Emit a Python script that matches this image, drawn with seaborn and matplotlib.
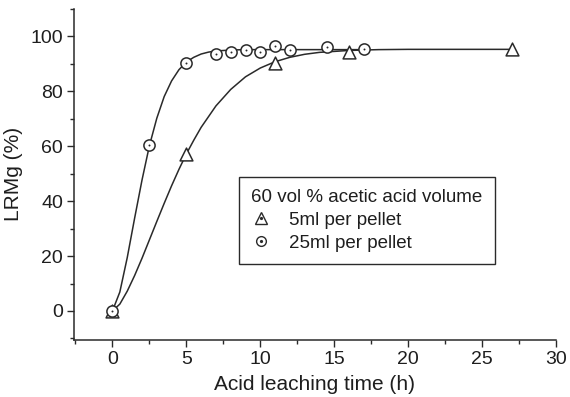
import numpy as np
import pandas as pd
import matplotlib
matplotlib.use("Agg")
import matplotlib.pyplot as plt
import seaborn as sns
from matplotlib.lines import Line2D
from matplotlib.legend_handler import HandlerTuple
from matplotlib.ticker import MultipleLocator

# measured points
t_5ml = [0, 5, 11, 16, 27]
y_5ml = [0, 57, 90.5, 94.5, 95.5]
t_25ml = [0, 2.5, 5, 7, 8, 9, 10, 11, 12, 14.5, 17]
y_25ml = [0, 60.5, 90.5, 93.5, 94.2, 95.0, 94.5, 96.5, 95.2, 96.0, 95.6]

# fitted curves
fit_t_5ml = [0, 0.5, 1, 1.5, 2, 2.5, 3, 3.5, 4, 4.5, 5, 5.5, 6, 7, 8, 9, 10, 11, 12, 13, 14, 16, 18, 20, 23, 27]
fit_y_5ml = [0, 2.5, 7.2, 12.9, 19.2, 25.9, 32.6, 39.2, 45.6, 51.6, 57.2, 62.2, 66.9, 74.7, 80.7, 85.3,
             88.5, 90.8, 92.4, 93.5, 94.2, 94.9, 95.2, 95.3, 95.3, 95.3]
fit_t_25ml = [0, 0.5, 1, 1.5, 2, 2.5, 3, 3.5, 4, 4.5, 5, 5.5, 6, 6.5, 7, 8, 9, 11, 14, 17]
fit_y_25ml = [0, 6.9, 19.4, 33.8, 47.7, 60.2, 70.2, 78.1, 83.8, 87.9, 90.7, 92.4, 93.6, 94.3, 94.7, 95.06,
              95.2, 95.2, 95.2, 95.2]

legend_title = "60 vol % acetic acid volume"
labels = ["5ml per pellet", "25ml per pellet"]

sns.set_style("ticks")
plt.rcParams['font.family'] = ['Liberation Sans', 'DejaVu Sans']

col = "#2a2a2a"
txt = "#1e1e1e"
fig = plt.figure(figsize=(5.7, 3.97), dpi=100)
ax = fig.add_axes([74 / 570, 1 - 339.5 / 397, (556 - 74) / 570, (339.5 - 9) / 397])

sns.lineplot(x=fit_t_5ml, y=fit_y_5ml, ax=ax, color=col, lw=1.1, sort=False)
sns.lineplot(x=fit_t_25ml, y=fit_y_25ml, ax=ax, color=col, lw=1.1, sort=False)

sns.scatterplot(x=t_5ml, y=y_5ml, ax=ax, marker="^", s=85, facecolor="white",
                edgecolor=col, linewidth=1.1, zorder=3)
sns.scatterplot(x=t_25ml, y=y_25ml, ax=ax, marker="o", s=65, facecolor="white",
                edgecolor=col, linewidth=1.1, zorder=3)
sns.scatterplot(x=t_25ml, y=y_25ml, ax=ax, marker="o", s=2, color=col, linewidth=0, zorder=4)

ax.set_xlim(-2.6, 30)
ax.set_ylim(-10.4, 110)
ax.xaxis.set_major_locator(MultipleLocator(5))
ax.xaxis.set_minor_locator(MultipleLocator(2.5))
ax.yaxis.set_major_locator(MultipleLocator(20))
ax.yaxis.set_minor_locator(MultipleLocator(10))
ax.tick_params(which="major", length=5, width=1, color=col, labelsize=14, labelcolor=txt,
               direction="out", pad=3)
ax.tick_params(which="minor", length=3, width=1, color=col, direction="out")
for s in ["top", "right"]:
    ax.spines[s].set_visible(False)
for s in ["left", "bottom"]:
    ax.spines[s].set_color(col)
    ax.spines[s].set_linewidth(1.1)

ax.set_xlabel("Acid leaching time (h)", fontsize=15, color=txt, labelpad=5)
ax.set_ylabel("LRMg (%)", fontsize=15, color=txt, labelpad=5)

tri = Line2D([], [], marker="^", ls="none", markersize=8.5, markerfacecolor="white",
             markeredgecolor=col, markeredgewidth=1.0)
tri_dot = Line2D([], [], marker="o", ls="none", markersize=1.3, color=col)
cir = Line2D([], [], marker="o", ls="none", markersize=7, markerfacecolor="white",
             markeredgecolor=col, markeredgewidth=1.0)
cir_dot = Line2D([], [], marker="o", ls="none", markersize=1.3, color=col)
leg = ax.legend([(tri, tri_dot), (cir, cir_dot)], labels,
                handler_map={tuple: HandlerTuple(ndivide=1, pad=0)},
                title=legend_title, title_fontsize=13.5, fontsize=13.5,
                loc="upper left", bbox_to_anchor=((239 - 74) / (556 - 74), 0.492),
                frameon=True, fancybox=False, edgecolor=col, framealpha=1,
                handlelength=1.0, handletextpad=1.0, borderpad=0.65, labelspacing=0.3,
                borderaxespad=0)
leg.get_frame().set_linewidth(1.0)
leg.get_title().set_color(txt)
for t in leg.get_texts():
    t.set_color(txt)
leg._legend_box.align = "left"

fig.savefig("out.png", dpi=100)
